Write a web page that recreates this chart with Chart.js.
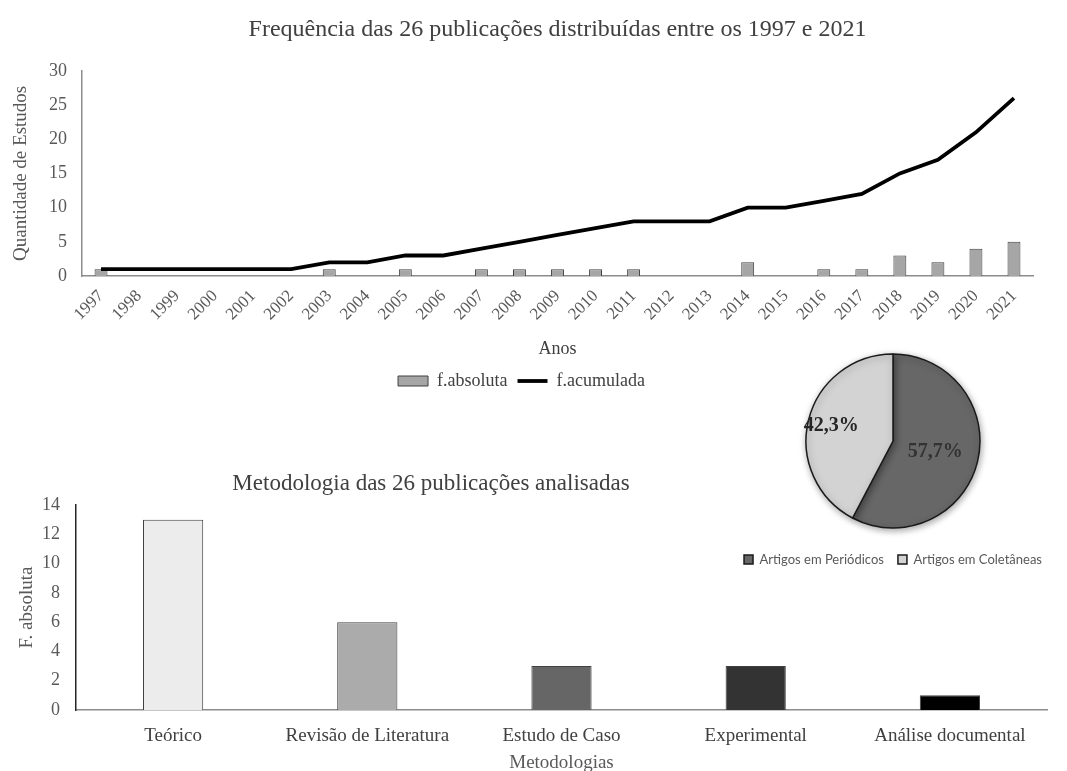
<!DOCTYPE html>
<html>
<head>
<meta charset="utf-8">
<script src="https://cdn.jsdelivr.net/npm/chart.js@4.4.1/dist/chart.umd.min.js"></script>
<style>
  body { margin: 0; background: #fff; }
  #wrap { position: relative; width: 1067px; height: 771px; overflow: hidden; }
  canvas { position: absolute; }
  #titleMet {
    position: absolute; left: 0; top: 469px; width: 862px; text-align: center;
    font-family: "Liberation Serif", serif; font-size: 23px; line-height: 28px; color: #404040;
  }
</style>
</head>
<body>
<div id="wrap">
  <canvas id="chartAnos" width="1067" height="400" style="left:0;top:0"></canvas>
  <canvas id="chartMet" width="1067" height="309" style="left:0;top:465px"></canvas>
  <div id="titleMet">Metodologia das 26 publicações analisadas</div>
  <canvas id="chartPie" width="387" height="240" style="left:680px;top:340px"></canvas>
</div>
<script>
// dados - frequencia por ano
const anos = ["1997","1998","1999","2000","2001","2002","2003","2004","2005","2006","2007","2008","2009",
  "2010","2011","2012","2013","2014","2015","2016","2017","2018","2019","2020","2021"];
const fAbsoluta = [1,0,0,0,0,0,1,0,1,0,1,1,1,1,1,0,0,2,0,1,1,3,2,4,5];
const fAcumulada = [1,1,1,1,1,1,2,2,3,3,4,5,6,7,8,8,8,10,10,11,12,15,17,21,26];

// dados - metodologias
const metodologias = ["Teórico","Revisão de Literatura","Estudo de Caso","Experimental","Análise documental"];
const metValores = [13,6,3,3,1];
const metCores = ["#ececec","#ababab","#666666","#333333","#000000"];

// dados - tipo de publicacao
const tipos = ["Artigos em Periódicos","Artigos em Coletâneas"];
const tiposPct = [57.7, 42.3];
const tiposCores = ["#676767","#d3d3d3"];

const serif = "'Liberation Serif', 'Times New Roman', serif";
const tickColor = "#595959";

new Chart(document.getElementById("chartAnos"), {
  data: {
    labels: anos,
    datasets: [
      {
        type: "bar",
        label: "f.absoluta",
        data: fAbsoluta,
        backgroundColor: "#a6a6a6",
        borderColor: "#404040",
        borderWidth: 1,
        barPercentage: 0.34,
        categoryPercentage: 1,
        pointStyle: "rect",
        order: 2,
      },
      {
        type: "line",
        label: "f.acumulada",
        data: fAcumulada,
        borderColor: "#000",
        backgroundColor: "#000",
        borderWidth: 3.8,
        pointRadius: 0,
        pointStyle: "line",
        tension: 0,
        order: 1,
      },
    ],
  },
  options: {
    responsive: false,
    animation: false,
    layout: { padding: { left: 10, right: 34, top: 0, bottom: 0 } },
    plugins: {
      title: {
        display: true,
        text: "Frequência das 26 publicações distribuídas entre os 1997 e 2021",
        fullSize: false,
        color: "#404040",
        font: { family: serif, size: 24, weight: "normal" },
        padding: { top: 15, bottom: 27 },
      },
      legend: {
        position: "bottom",
        labels: {
          usePointStyle: true,
          pointStyleWidth: 30,
          boxHeight: 10,
          color: "#404040",
          font: { family: serif, size: 18 },
          padding: 10,
          sort: (a, b) => a.datasetIndex - b.datasetIndex,
        },
      },
      tooltip: { enabled: false },
    },
    scales: {
      x: {
        afterFit: (scale) => { scale.height = 86; },
        grid: { display: false, drawTicks: false },
        border: { color: "#8c8c8c", width: 1.5 },
        ticks: {
          color: tickColor, font: { family: serif, size: 17 },
          minRotation: 45, maxRotation: 45, padding: 10, autoSkip: false,
        },
        title: { display: true, text: "Anos", color: "#404040",
          font: { family: serif, size: 18 }, padding: { top: 0, bottom: 2 } },
      },
      y: {
        afterFit: (scale) => { scale.width = 72; },
        min: 0, max: 30,
        grid: { display: false, drawTicks: false },
        border: { color: "#8c8c8c", width: 1.5 },
        ticks: { stepSize: 5, color: tickColor, font: { family: serif, size: 18 }, padding: 15 },
        title: { display: true, text: "Quantidade de Estudos", color: "#595959",
          font: { family: serif, size: 19 }, padding: { top: 0, bottom: 4 } },
      },
    },
  },
});

new Chart(document.getElementById("chartMet"), {
  type: "bar",
  data: {
    labels: metodologias,
    datasets: [
      {
        label: "F. absoluta",
        data: metValores,
        backgroundColor: metCores,
        borderColor: "#404040",
        borderWidth: 1,
        barPercentage: 0.31,
        categoryPercentage: 1,
      },
    ],
  },
  options: {
    responsive: false,
    animation: false,
    layout: { padding: { left: 16, right: 20, top: 40, bottom: 0 } },
    plugins: { legend: { display: false }, tooltip: { enabled: false } },
    scales: {
      x: {
        afterFit: (scale) => { scale.height = 64; },
        grid: { display: false, drawTicks: false },
        border: { color: "#8c8c8c", width: 1.5 },
        ticks: { color: "#404040", font: { family: serif, size: 19 }, padding: 15 },
        title: { display: true, text: "Metodologias", color: "#595959",
          font: { family: serif, size: 19 }, padding: { top: 0, bottom: 0 } },
      },
      y: {
        afterFit: (scale) => { scale.width = 60; },
        min: 0, max: 14,
        grid: { display: false, drawTicks: false },
        border: { color: "#262626", width: 1.5 },
        ticks: { stepSize: 2, color: tickColor, font: { family: serif, size: 18 }, padding: 16 },
        title: { display: true, text: "F. absoluta", color: "#595959",
          font: { family: serif, size: 19 }, padding: { top: 0, bottom: 2 } },
      },
    },
  },
});

// sombra e rotulos da pizza
const pieExtras = {
  id: "pieExtras",
  beforeDatasetsDraw(chart) {
    const ctx = chart.ctx;
    ctx.save();
    ctx.shadowColor = "rgba(0,0,0,0.35)";
    ctx.shadowBlur = 7;
    ctx.shadowOffsetX = 1;
    ctx.shadowOffsetY = 2;
  },
  afterDatasetsDraw(chart) {
    const ctx = chart.ctx;
    ctx.restore();
    const meta = chart.getDatasetMeta(0);
    const fatores = [0.5, 0.73];
    const cores = ["#333333", "#262626"];
    ctx.save();
    ctx.font = "bold 20px " + serif;
    ctx.textAlign = "center";
    ctx.textBaseline = "middle";
    meta.data.forEach((arc, i) => {
      const p = arc.getProps(["x", "y", "startAngle", "endAngle", "outerRadius"], true);
      const a = (p.startAngle + p.endAngle) / 2;
      const r = p.outerRadius * fatores[i];
      ctx.fillStyle = cores[i];
      const txt = tiposPct[i].toFixed(1).replace(".", ",") + "%";
      ctx.fillText(txt, p.x + Math.cos(a) * r, p.y + Math.sin(a) * r);
    });
    ctx.restore();
  },
};

new Chart(document.getElementById("chartPie"), {
  type: "pie",
  data: {
    labels: tipos,
    datasets: [
      {
        data: tiposPct,
        backgroundColor: tiposCores,
        borderColor: "#1a1a1a",
        borderWidth: 1.5,
        radius: 87,
      },
    ],
  },
  options: {
    responsive: false,
    animation: false,
    layout: { padding: { left: 39, right: 0, top: 3, bottom: 4 } },
    plugins: {
      legend: {
        position: "bottom",
        labels: {
          boxWidth: 9, boxHeight: 9,
          color: "#595959",
          font: { family: "Lato, 'Open Sans', sans-serif", size: 13 },
          padding: 14,
        },
      },
      tooltip: { enabled: false },
    },
  },
  plugins: [pieExtras],
});
</script>
</body>
</html>
